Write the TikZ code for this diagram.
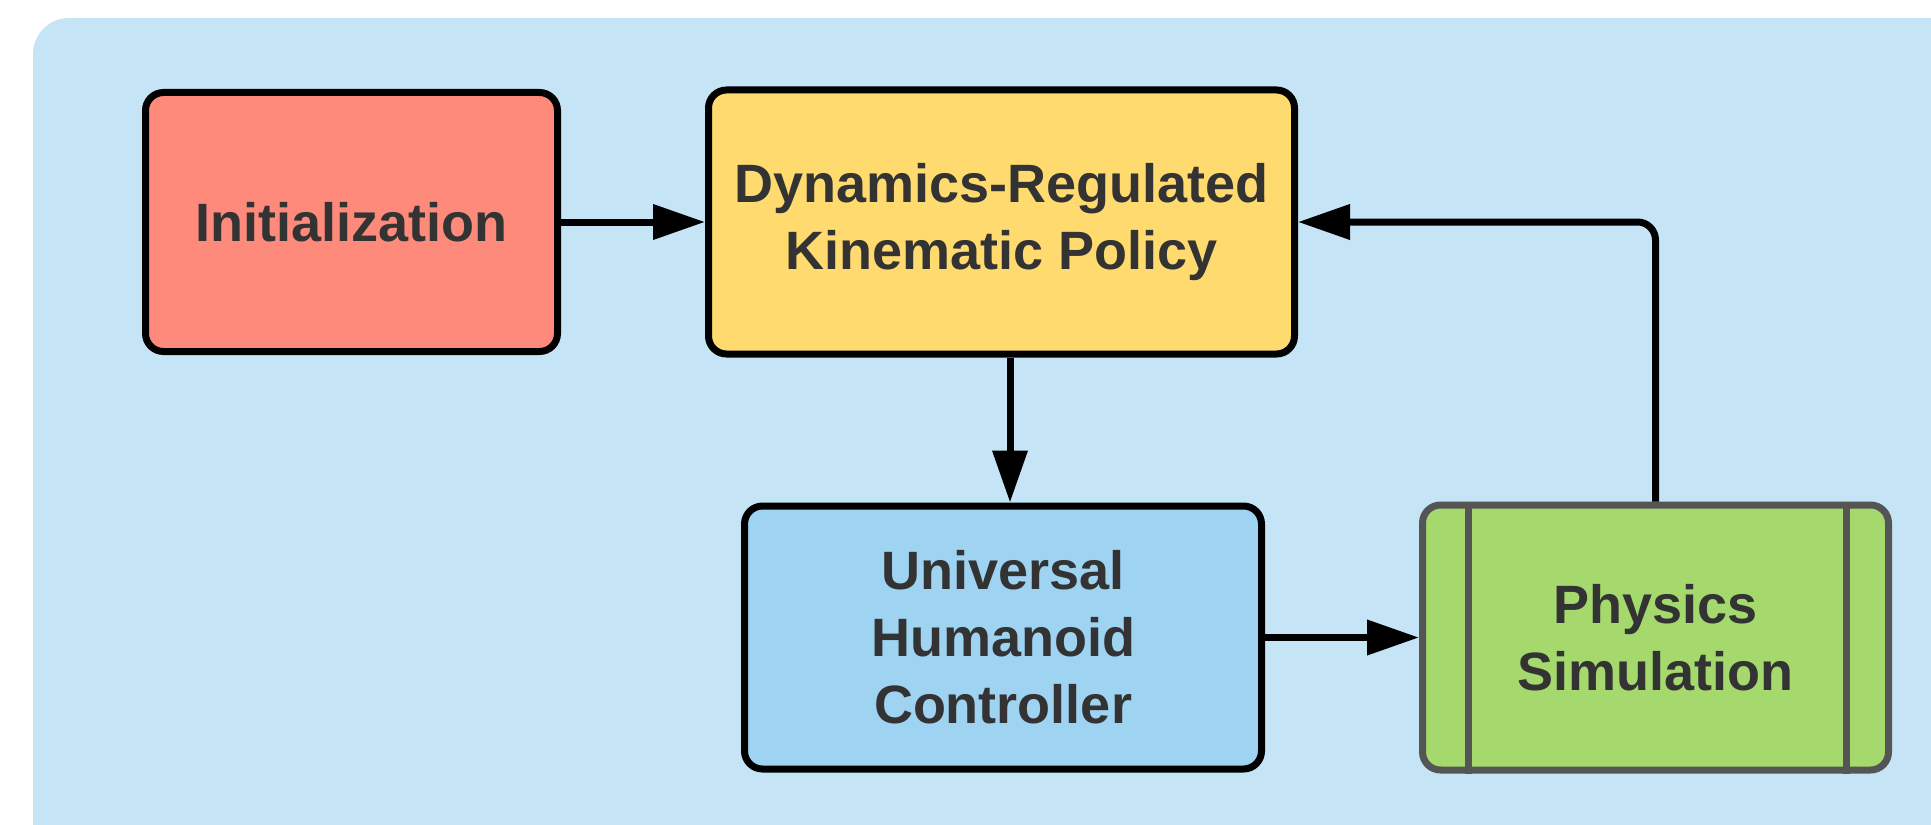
\documentclass[tikz,border=0pt]{standalone}
\usepackage{fontspec}
\setmainfont{Liberation Sans}
\usetikzlibrary{arrows.meta}
\definecolor{bgblue}{HTML}{C5E4F6}
\definecolor{salmon}{HTML}{FD8A7A}
\definecolor{boxyellow}{HTML}{FFDA6E}
\definecolor{boxblue}{HTML}{9FD3F2}
\definecolor{boxgreen}{HTML}{A5D96E}
\definecolor{txtgray}{HTML}{333333}
\definecolor{bordergray}{HTML}{555555}
\tikzset{
  block/.style={draw=black, line width=3.5pt, rounded corners=9pt, align=center,
    text=txtgray, font=\fontsize{27}{33.5}\selectfont\bfseries, inner sep=0pt},
  conn/.style={draw=black, line width=3.5pt, -{Triangle[length=26pt,width=17pt]}},
}
\begin{document}
\begin{tikzpicture}[x=0.5pt,y=-0.5pt]
\useasboundingbox (0,0) rectangle (1931,824);
\fill[bgblue, rounded corners=18pt] (33,18) rectangle (1990,860);
\node[block, fill=salmon, minimum width=206pt, minimum height=129.5pt] (init) at (351.5,222) {Initialization};
\node[block, fill=boxyellow, minimum width=293pt, minimum height=132pt] (dyn) at (1001.5,222) {Dynamics-Regulated\\Kinematic Policy};
\node[block, fill=boxblue, minimum width=258.5pt, minimum height=131.5pt] (univ) at (1003,637.5) {Universal\\Humanoid\\Controller};
\node[block, draw=bordergray, fill=boxgreen, minimum width=233pt, minimum height=132.5pt] (phys) at (1655.5,637.5) {Physics\\Simulation};
\draw[bordergray, line width=3.5pt] ([xshift=24.5pt]phys.north west) -- ([xshift=24.5pt]phys.south west);
\draw[bordergray, line width=3.5pt] ([xshift=-23pt]phys.north east) -- ([xshift=-23pt]phys.south east);
\draw[conn] (init.east) -- (init.east -| dyn.west);
\draw[conn] ([xshift=4.25pt]dyn.south) -- ([xshift=4.25pt]dyn.south |- univ.north);
\draw[conn] (univ.east) -- (univ.east -| phys.west);
\draw[conn, rounded corners=9pt] (phys.north) |- (dyn.east);
\end{tikzpicture}
\end{document}
